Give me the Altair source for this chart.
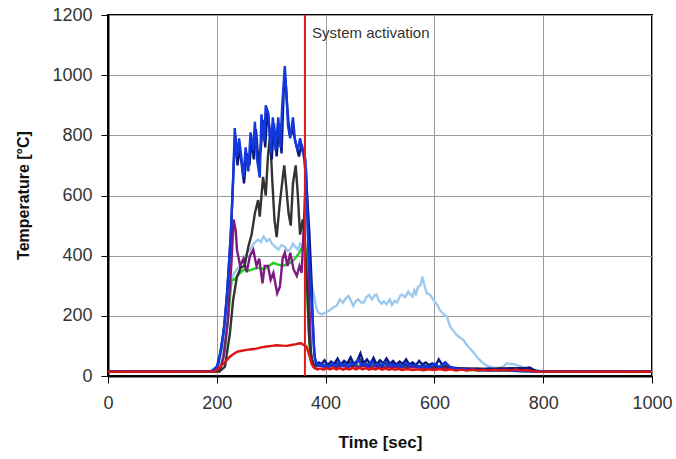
import altair as alt
import pandas as pd

# ---------------- data ----------------
LIGHTBLUE_T = [0, 195, 203, 210, 218, 225, 231, 237, 243, 250, 256, 261, 268, 276, 281, 286, 292, 297, 301, 307,
               313, 319, 325, 330, 335, 340, 344, 349, 353, 358, 363, 368, 374, 379, 383, 387, 393, 402, 408, 414,
               420, 423, 426, 432, 437, 442, 447, 451, 456, 460, 465, 470, 475, 480, 485, 491, 494, 498, 503, 507,
               512, 518, 522, 527, 531, 537, 540, 546, 552, 556, 560, 563, 566, 570, 574, 578, 581, 586, 592, 598,
               604, 610, 617, 623, 629, 635, 641, 647, 653, 659, 665, 672, 678, 684, 690, 696, 702, 710, 721, 727,
               733, 740, 745, 752, 760, 770, 780, 790, 1000]
LIGHTBLUE_V = [15, 16, 40, 90, 200, 300, 340, 355, 366, 390, 410, 420, 440, 453, 445, 464, 448, 455, 441, 430,
               420, 435, 430, 415, 420, 440, 430, 420, 441, 430, 420, 380, 308, 266, 225, 210, 205, 212, 219, 228,
               233, 242, 255, 244, 258, 266, 248, 233, 250, 255, 245, 244, 262, 270, 255, 269, 271, 250, 240, 248,
               239, 254, 236, 250, 244, 266, 271, 262, 280, 270, 264, 285, 272, 297, 300, 330, 305, 275, 270, 253,
               240, 219, 205, 197, 164, 150, 136, 128, 120, 105, 92, 78, 64, 52, 42, 35, 31, 28, 27, 32,
               42, 40, 40, 36, 31, 25, 20, 16, 15]

GREEN_T = [0, 205, 215, 221, 227, 232, 237, 244, 251, 258, 267, 276, 286, 295, 304, 313, 322, 328, 335, 341,
           347, 352, 356, 362, 366, 369, 372, 376, 382, 390, 400, 410, 420, 430, 440, 450, 460, 470, 480, 490,
           500, 510, 520, 530, 540, 550, 560, 570, 580, 590, 600, 610, 620, 630, 640, 660, 700, 740, 800, 1000]
GREEN_V = [15, 16, 85, 195, 319, 320, 330, 345, 355, 350, 355, 360, 355, 365, 376, 370, 366, 372, 376, 385,
           398, 410, 425, 441, 300, 150, 60, 38, 34, 36, 33, 38, 34, 37, 33, 36, 34, 38, 33, 36,
           33, 37, 33, 35, 32, 34, 31, 33, 30, 31, 29, 30, 27, 24, 22, 20, 18, 17, 15, 15]

PURPLE_T = [0, 205, 212, 220, 227, 231, 235, 237, 243, 249, 255, 261, 267, 273, 278, 284, 288, 294, 299, 304,
            311, 316, 321, 325, 330, 335, 341, 347, 352, 356, 360, 364, 367, 370, 373, 376, 382, 390, 400, 410,
            420, 430, 440, 450, 460, 470, 480, 490, 500, 520, 540, 560, 580, 600, 620, 640, 660, 680, 700, 720,
            740, 760, 780, 800, 1000]
PURPLE_V = [15, 16, 60, 180, 380, 520, 480, 420, 366, 390, 345, 400, 420, 366, 390, 308, 366, 366, 320, 343,
            275, 297, 390, 410, 366, 410, 355, 333, 366, 343, 500, 690, 550, 250, 80, 40, 32, 35, 30, 34,
            30, 33, 30, 34, 30, 33, 30, 32, 29, 31, 28, 30, 27, 28, 26, 24, 23, 22, 22, 21,
            20, 20, 17, 15, 15]

BLACK_T = [0, 205, 215, 224, 230, 237, 244, 251, 258, 264, 270, 276, 279, 285, 290, 294, 298, 302, 306, 310,
           315, 320, 324, 328, 332, 336, 340, 345, 349, 353, 358, 362, 366, 370, 374, 378, 384, 390, 396, 402,
           408, 414, 420, 426, 432, 438, 444, 450, 456, 462, 468, 474, 480, 486, 492, 498, 504, 510, 516, 522,
           528, 534, 540, 546, 552, 560, 570, 580, 590, 600, 610, 620, 630, 645, 660, 680, 700, 720, 740, 760,
           775, 790, 1000]
BLACK_V = [15, 16, 31, 141, 252, 330, 360, 366, 430, 470, 541, 585, 530, 662, 600, 730, 800, 650, 520, 462,
           560, 640, 700, 620, 540, 500, 640, 700, 600, 470, 520, 450, 300, 120, 60, 40, 35, 42, 33, 40,
           32, 38, 45, 34, 40, 36, 48, 35, 40, 58, 36, 42, 34, 50, 36, 42, 34, 46, 36, 44,
           34, 40, 32, 38, 33, 36, 32, 35, 30, 34, 30, 33, 28, 26, 24, 25, 22, 26, 24, 27,
           22, 16, 15]

NAVY_T = [0, 192, 202, 208, 214, 220, 226, 231, 234, 238, 242, 246, 250, 255, 260, 264, 268, 272, 277, 281,
          285, 289, 293, 297, 301, 305, 310, 315, 319, 323, 326, 330, 334, 338, 342, 347, 351, 356, 361, 366,
          370, 374, 377, 380, 384, 388, 392, 398, 404, 410, 416, 422, 428, 434, 440, 446, 452, 458, 464, 470,
          476, 482, 488, 494, 500, 506, 512, 518, 524, 530, 536, 542, 548, 554, 560, 566, 572, 578, 584, 590,
          596, 602, 608, 614, 620, 626, 634, 645, 660, 680, 700, 720, 740, 760, 775, 785, 800, 1000]
NAVY_V = [15, 16, 35, 90, 170, 300, 480, 700, 800, 700, 760, 700, 640, 740, 700, 790, 720, 820, 700, 760,
          850, 760, 880, 820, 720, 840, 730, 840, 740, 950, 990, 880, 800, 820, 800, 760, 730, 770, 720, 600,
          480, 320, 150, 60, 40, 45, 38, 52, 36, 48, 40, 58, 38, 50, 42, 62, 40, 50, 75, 42,
          55, 40, 60, 38, 52, 42, 58, 40, 50, 38, 48, 40, 55, 38, 45, 36, 50, 38, 45, 36,
          42, 35, 55, 38, 45, 32, 28, 25, 24, 22, 25, 22, 26, 24, 28, 18, 15, 15]

BLUE_T = [0, 190, 200, 206, 212, 218, 224, 227, 230, 233, 237, 241, 245, 249, 253, 258, 262, 267, 270, 274,
          279, 282, 287, 290, 295, 299, 303, 308, 313, 317, 320, 325, 328, 331, 335, 340, 344, 349, 353, 358,
          363, 368, 374, 377, 379, 382, 386, 390, 395, 400, 406, 412, 418, 424, 430, 436, 442, 448, 454, 460,
          466, 472, 478, 484, 490, 496, 502, 508, 514, 520, 526, 532, 540, 548, 556, 564, 572, 580, 590, 600,
          610, 620, 630, 640, 660, 680, 700, 720, 740, 760, 780, 1000]
BLUE_V = [15, 16, 31, 75, 141, 252, 419, 519, 650, 824, 730, 790, 730, 660, 760, 680, 810, 750, 845, 720,
          660, 870, 780, 900, 870, 740, 860, 750, 860, 760, 890, 1030, 940, 830, 790, 860, 780, 750, 790, 750,
          720, 440, 253, 163, 76, 45, 35, 40, 32, 38, 30, 42, 33, 45, 35, 40, 30, 44, 36, 55,
          35, 42, 33, 48, 36, 40, 32, 45, 35, 40, 33, 38, 30, 42, 33, 36, 30, 34, 28, 40,
          30, 45, 28, 25, 22, 20, 18, 20, 18, 16, 15, 15]

RED_T = [0, 195, 200, 206, 213, 218, 224, 230, 237, 246, 255, 264, 273, 282, 292, 301, 310, 319, 329, 337,
         344, 350, 355, 359, 365, 368, 371, 374, 377, 380, 385, 390, 396, 402, 408, 414, 420, 426, 432, 438,
         444, 450, 456, 462, 468, 474, 480, 486, 492, 498, 504, 510, 516, 522, 528, 534, 540, 550, 560, 570,
         580, 590, 600, 610, 620, 630, 640, 650, 660, 670, 680, 690, 700, 710, 720, 730, 740, 750, 760, 770,
         780, 790, 1000]
RED_V = [14, 15, 20, 30, 42, 52, 64, 72, 80, 84, 87, 89, 91, 95, 98, 100, 102, 101, 100, 103,
         105, 108, 109, 104, 98, 80, 64, 42, 31, 26, 22, 25, 21, 26, 22, 27, 22, 26, 21, 25,
         22, 27, 22, 28, 22, 26, 21, 25, 22, 26, 21, 25, 21, 24, 21, 24, 20, 23, 20, 22,
         19, 22, 20, 23, 19, 22, 18, 21, 18, 22, 18, 21, 18, 21, 18, 21, 18, 22, 18, 20,
         16, 15, 14]

SERIES = [
    ("light blue", LIGHTBLUE_T, LIGHTBLUE_V, "#9dc9ee"),
    ("green", GREEN_T, GREEN_V, "#22cc22"),
    ("purple", PURPLE_T, PURPLE_V, "#7d1a80"),
    ("black", BLACK_T, BLACK_V, "#333333"),
    ("navy", NAVY_T, NAVY_V, "#0b1a80"),
    ("blue", BLUE_T, BLUE_V, "#1238e0"),
    ("red", RED_T, RED_V, "#dd1414"),
]

EVENT_T = [362]
EVENT_LABEL = ["System activation"]
LABEL_T = [375]
LABEL_V = [1140]

X_TICKS = [0, 200, 400, 600, 800, 1000]
Y_TICKS = [0, 200, 400, 600, 800, 1000, 1200]

# ---------------- build ----------------
rows = []
for name, ts, vs, _ in SERIES:
    for t, v in zip(ts, vs):
        rows.append({"s": name, "t": t, "v": v})
df = pd.DataFrame(rows)

FONT = "Liberation Sans"

x_enc = alt.X(
    "t:Q",
    scale=alt.Scale(domain=[0, 1000], nice=False),
    axis=alt.Axis(
        values=X_TICKS, format="d", title="Time [sec]",
        grid=True, gridColor="#9a9a9a", gridWidth=1,
        domainColor="#000000", domainWidth=2,
        tickColor="#000000", tickSize=7, tickWidth=1,
        labelFont=FONT, labelFontSize=18, labelColor="#333333", labelPadding=11,
        labelFlush=False, labelOverlap=False,
        titleFont=FONT, titleFontSize=17, titleFontWeight="bold", titleColor="#111111",
        titleX=272, titleY=66, titleBaseline="middle", titleAlign="center",
    ),
)
y_enc = alt.Y(
    "v:Q",
    scale=alt.Scale(domain=[0, 1200], nice=False),
    axis=alt.Axis(
        values=Y_TICKS, format="d", title="Temperature [°C]",
        grid=True, gridColor="#9a9a9a", gridWidth=1,
        domainColor="#000000", domainWidth=2,
        tickColor="#000000", tickSize=7, tickWidth=1,
        labelFont=FONT, labelFontSize=18, labelColor="#333333", labelPadding=9,
        labelFlush=False, labelOverlap=False,
        titleFont=FONT, titleFontSize=16, titleFontWeight="bold", titleColor="#111111",
        titleX=-85, titleY=180, titleAngle=-90, titleBaseline="middle", titleAlign="center",
    ),
)

base = alt.Chart(df).encode(x=x_enc, y=y_enc)

layers = []
for name, _, _, color in SERIES:
    layers.append(
        base.transform_filter(alt.datum.s == name)
        .mark_line(color=color, strokeWidth=2.4, interpolate="linear")
    )

event_df = pd.DataFrame({"t": EVENT_T, "v": [0], "v2": [1200]})
rule = alt.Chart(event_df).mark_rule(color="#e01a1a", strokeWidth=2).encode(
    x=alt.X("t:Q"), y=alt.Y("v:Q"), y2="v2:Q"
)

label_df = pd.DataFrame({"t": LABEL_T, "v": LABEL_V, "label": EVENT_LABEL})
label = alt.Chart(label_df).mark_text(
    align="left", baseline="middle", font=FONT, fontSize=15, color="#333333"
).encode(x="t:Q", y="v:Q", text="label:N")

chart = (
    alt.layer(*layers, rule, label)
    .properties(
        width=544, height=361,
        autosize=alt.AutoSizeParams(type="none"),
        padding={"left": 108, "top": 15, "right": 24, "bottom": 83},
        background="#ffffff",
    )
    .configure_view(stroke="#000000", strokeWidth=2)
)

chart.save("out.html", embed_options={"renderer": "svg", "actions": False})
